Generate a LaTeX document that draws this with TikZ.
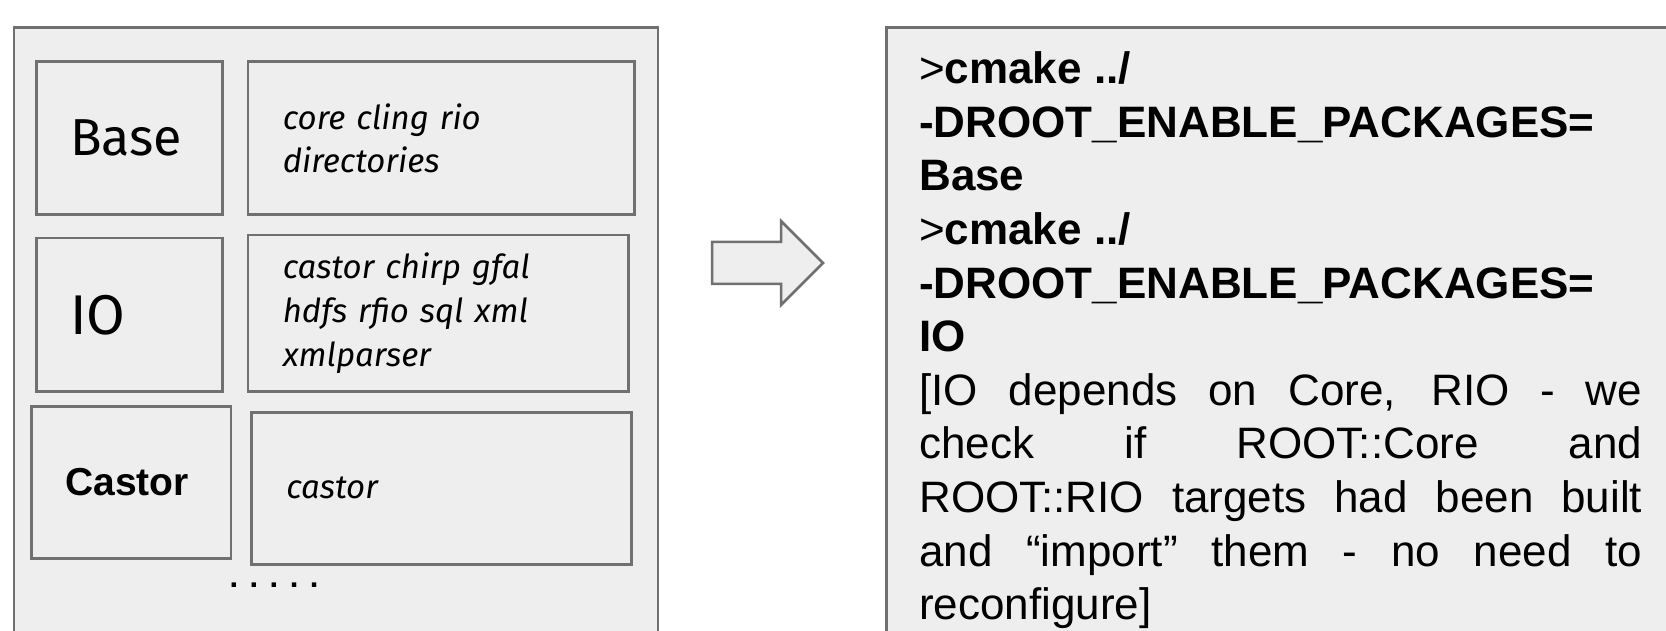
\documentclass[tikz,border=0pt]{standalone}
\usepackage{fontspec}
\setmainfont{Liberation Sans}
\newfontfamily\pkgfont{Fira Sans}
\definecolor{panelfill}{HTML}{EEEEEE}
\definecolor{panelline}{HTML}{707070}
\begin{document}
\begin{tikzpicture}[x=1pt,y=-1pt]
		\tikzstyle{every node}+=[inner sep=0pt]
		\tikzstyle{frame}=[draw=panelline, fill=panelfill, line width=2.5pt]
		\tikzstyle{group}=[frame, anchor=north west, inner xsep=34pt, align=left]
		\tikzstyle{members}=[frame, anchor=north west, inner xsep=35pt, align=left, font=\pkgfont\itshape\fontsize{33}{43.6}\selectfont]
		\useasboundingbox (0,0) rectangle (1666,631);
		\clip (0,0) rectangle (1666,631);
		% left: packages and their members
		\draw [frame] (14,27.6) rectangle (658,660);
		\node [group, text width=118pt, minimum height=153pt, font=\pkgfont\fontsize{52}{60}\selectfont] (base) at (35,60.5) {Base};
		\node [members, text width=316.5pt, minimum height=153pt] (basemembers) at (246.5,60.5) {core cling rio\\directories};
		\node [group, text width=118pt, minimum height=153pt, font=\pkgfont\fontsize{56}{60}\selectfont] (io) at (35,237) {IO};
		\node [members, text width=310.5pt, minimum height=156pt] (iomembers) at (246.5,234) {castor chirp gfal\\hdfs rfio sql xml\\xmlparser};
		\node [group, text width=131.5pt, minimum height=152pt, font=\bfseries\fontsize{39}{46}\selectfont] (castor) at (30,405) {Castor};
		\node [members, text width=310pt, minimum height=152pt] (castormembers) at (250,411) {castor};
		\node [font=\bfseries\fontsize{31}{40}\selectfont] (more) at (274,585) {. . . . .};
		% block arrow
		\draw [frame] (712,242) -- (781,242) -- (781,221) -- (823,263) -- (781,305) -- (781,284) -- (712,284) -- cycle;
		% right: cmake calls
		\node [frame, anchor=north west, inner xsep=33pt, inner ysep=19pt, text width=723pt, minimum height=625pt, align=justify, font=\fontsize{44}{53.6}\selectfont] (cmds) at (885,26.5) {\pretolerance=10000\bfseries
			{\mdseries>}cmake ../\\
			-DROOT\_ENABLE\_PACKAGES=\\
			Base\\
			{\mdseries>}cmake ../\\
			-DROOT\_ENABLE\_PACKAGES=\\
			IO\\
			\mdseries [IO depends on Core, RIO - we\linebreak
			check if ROOT::Core and\linebreak
			ROOT::RIO targets had been built\linebreak
			and “import” them - no need to\linebreak
			reconfigure]};
	\end{tikzpicture}
\end{document}
